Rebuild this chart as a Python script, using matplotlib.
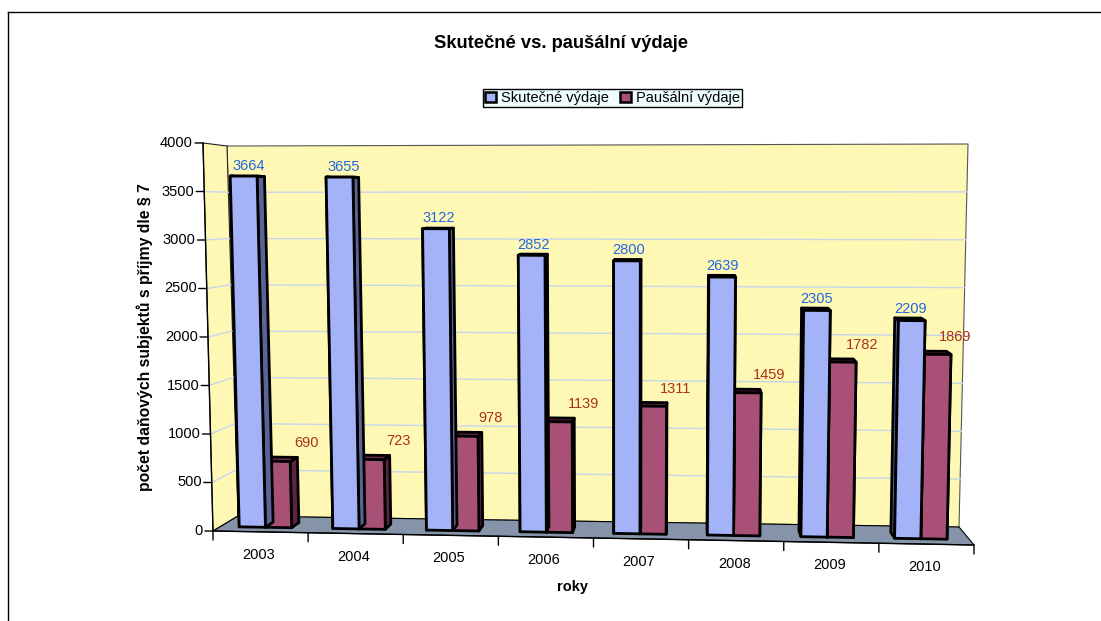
import matplotlib
matplotlib.use('Agg')
import matplotlib.pyplot as plt
from matplotlib.patches import Polygon, Patch
from matplotlib.lines import Line2D

plt.rcParams['font.family'] = ['Liberation Sans', 'DejaVu Sans']

# data
roky = ['2003', '2004', '2005', '2006', '2007', '2008', '2009', '2010']
skutecne = [3664, 3655, 3122, 2852, 2800, 2639, 2305, 2209]
pausalni = [690, 723, 978, 1139, 1311, 1459, 1782, 1869]
y_ticks = [0, 500, 1000, 1500, 2000, 2500, 3000, 3500, 4000]

W, H = 1101, 621
fig = plt.figure(figsize=(W / 100, H / 100), dpi=100)

# axes: x = category units (0..8), y = value (0..4000) on the front plane
ax = fig.add_axes([213 / W, 1 - 531 / H, (974 - 213) / W, (531 - 143) / H])
n = len(roky)
vmax = y_ticks[-1]
ax.set_xlim(0, n)
ax.set_ylim(0, vmax)
ax.axis('off')


def px2data(px, py):
    return ((px - 213) / (974 - 213) * n, (531 - py) / (531 - 143) * vmax)


# perspective box corners (layout only)
front = [px2data(213, 531), px2data(974, 545), px2data(203, 143), px2data(983, 144)]
back = [px2data(238, 516), px2data(959, 527), px2data(227, 146), px2data(968, 144)]


def bilin(c, s, t):
    x = (1 - s) * (1 - t) * c[0][0] + s * (1 - t) * c[1][0] + (1 - s) * t * c[2][0] + s * t * c[3][0]
    y = (1 - s) * (1 - t) * c[0][1] + s * (1 - t) * c[1][1] + (1 - s) * t * c[2][1] + s * t * c[3][1]
    return x, y


def proj(u, v, w):
    s, t = u / n, v / vmax
    fx, fy = bilin(front, s, t)
    bx, by = bilin(back, s, t)
    return fx * (1 - w) + bx * w, fy * (1 - w) + by * w


def poly(pts, fc, ec='black', lw=0.8, z=1):
    ax.add_patch(Polygon(pts, closed=True, facecolor=fc, edgecolor=ec,
                         linewidth=lw, zorder=z, clip_on=False, joinstyle='round'))


# walls and floor
poly([proj(0, 0, 1), proj(n, 0, 1), proj(n, vmax, 1), proj(0, vmax, 1)], '#fff8b4', ec='#555555')
poly([proj(0, 0, 0), proj(0, 0, 1), proj(0, vmax, 1), proj(0, vmax, 0)], '#fff8b4', ec='#222222')
poly([proj(0, 0, 0), proj(n, 0, 0), proj(n, 0, 1), proj(0, 0, 1)], '#8594a9', ec='black', z=2)

for v in y_ticks[1:-1]:
    a, b, c = proj(0, v, 0), proj(0, v, 1), proj(n, v, 1)
    ax.plot([a[0], b[0], c[0]], [a[1], b[1], c[1]], color='#c6d6ec', lw=1, zorder=1.5, clip_on=False)

# value axis
a, b = proj(0, 0, 0), proj(0, vmax, 0)
ax.plot([a[0], b[0]], [a[1], b[1]], color='black', lw=1, zorder=3, clip_on=False)
for v in y_ticks:
    p = proj(0, v, 0)
    ax.annotate('', xy=p, xytext=(-8, 0), textcoords='offset pixels', annotation_clip=False,
                arrowprops=dict(arrowstyle='-', color='black', lw=1, shrinkA=0, shrinkB=0))
    ax.annotate(str(v), xy=p, xytext=(-10, 0), textcoords='offset pixels', annotation_clip=False,
                ha='right', va='center', fontsize=10.5, color='black')

# category axis
a, b = proj(0, 0, 0), proj(n, 0, 0)
ax.plot([a[0], b[0]], [a[1], b[1]], color='black', lw=1, zorder=3, clip_on=False)
for i in range(n + 1):
    p = proj(i, 0, 0)
    ax.annotate('', xy=p, xytext=(0, -9), textcoords='offset pixels', annotation_clip=False,
                arrowprops=dict(arrowstyle='-', color='black', lw=1, shrinkA=0, shrinkB=0))
for i, r in enumerate(roky):
    p = proj(i + 0.5, 0, 0)
    ax.annotate(r, xy=p, xytext=(-2, -23), textcoords='offset pixels', annotation_clip=False,
                ha='center', va='center', fontsize=10.5)


def box(u0, u1, v, w0, w1, cf, cs, ct):
    z = 4
    poly([proj(u0, 0, w0), proj(u0, 0, w1), proj(u0, v, w1), proj(u0, v, w0)], cs, lw=2, z=z)
    poly([proj(u1, 0, w0), proj(u1, 0, w1), proj(u1, v, w1), proj(u1, v, w0)], cs, lw=2, z=z)
    poly([proj(u0, v, w0), proj(u1, v, w0), proj(u1, v, w1), proj(u0, v, w1)], ct, lw=2, z=z)
    poly([proj(u0, 0, w0), proj(u1, 0, w0), proj(u1, v, w0), proj(u0, v, w0)], cf, lw=2, z=z)


w0, w1 = 0.3, 0.64
for i in range(n):
    box(i + 0.48, i + 0.76, pausalni[i], w0, w1, '#a85075', '#5e2340', '#6e2a4a')
    box(i + 0.2, i + 0.48, skutecne[i], w0, w1, '#a4b2f8', '#5a6496', '#4c5690')
    pb = proj(i + 0.34, skutecne[i], (w0 + w1) / 2)
    ax.annotate(str(skutecne[i]), xy=pb, xytext=(1, 10), textcoords='offset pixels',
                annotation_clip=False, ha='center', va='center', fontsize=10.5,
                color='#2166e6', zorder=6)
    pm = proj(i + 0.76, pausalni[i], w1)
    ax.annotate(str(pausalni[i]), xy=pm, xytext=(9, 14), textcoords='offset pixels',
                annotation_clip=False, ha='center', va='center', fontsize=10.5,
                color='#a8321e', zorder=6)

# texts
fig.text(561 / W, 1 - 43 / H, 'Skutečné vs. paušální výdaje', ha='center', va='center',
         fontsize=13.2, fontweight='bold')
fig.text(572 / W, 1 - 587 / H, 'roky', ha='center', va='center', fontsize=10.5, fontweight='bold')
fig.text(145 / W, 1 - 337 / H, 'počet daňových subjektů s příjmy dle § 7', ha='center', va='center',
         rotation=90, fontsize=11.3, fontweight='bold')

handles = [Patch(facecolor='#a4b2f8', edgecolor='black', linewidth=1.8),
           Patch(facecolor='#a85075', edgecolor='black', linewidth=1.8)]
fig.legend(handles, ['Skutečné výdaje', 'Paušální výdaje'], loc='upper center',
           bbox_to_anchor=(612.5 / W, 1 - 89 / H), ncol=2, fontsize=10.5, handlelength=0.75,
           handleheight=0.75, handletextpad=0.3, columnspacing=0.8, borderpad=0.15,
           borderaxespad=0, fancybox=False, edgecolor='black', facecolor='#effdff', framealpha=1)

# outer frame
fig.add_artist(Line2D([8 / W, 8 / W], [0, 1 - 12 / H], transform=fig.transFigure, color='black', lw=1))
fig.add_artist(Line2D([8 / W, 1], [1 - 12 / H, 1 - 12 / H], transform=fig.transFigure, color='black', lw=1))

fig.savefig('out.png', dpi=100)
